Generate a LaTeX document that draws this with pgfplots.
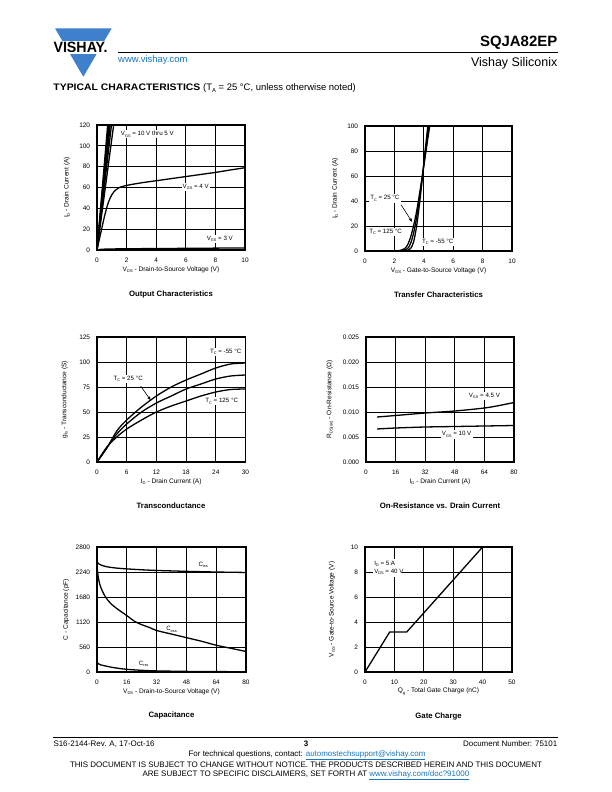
\documentclass[border=0pt]{standalone}
\usepackage{fontspec}
\setmainfont{Liberation Sans}
\usepackage{pgfplots}
\pgfplotsset{compat=1.18}
\usetikzlibrary{arrows.meta}
\definecolor{vblue}{RGB}{62,128,204}
\definecolor{linkblue}{RGB}{24,118,196}
\newcommand{\fs}[1]{\fontsize{#1}{#1}\selectfont}
\newcommand{\sub}[1]{\raisebox{-0.4ex}{\scalebox{0.62}{#1}}}
\newcommand{\link}[1]{\textcolor{linkblue}{\underline{#1}}}
\pgfplotsset{
  dsheet/.style={
    height=125bp, scale only axis, anchor=south west,
    axis line style={line width=1.3pt},
    grid=major, major grid style={black, line width=0.75pt},
    major tick length=0pt,
    tick label style={font=\fs{6.5}},
    xticklabel shift=4.5bp, yticklabel shift=3.4bp,
    /pgf/number format/assume math mode=true,
    /pgf/number format/1000 sep={},
    label style={font=\fs{6.6}},
    xlabel style={at={(axis description cs:0.5,-0.155)},anchor=center},
    cycle list={black},
    every axis plot/.append style={line width=1.3pt, black, solid},
    no marks,
    clip=true,
  },
}
\tikzset{lab/.style={fill=white, inner sep=1.2pt, font=\fs{6.2}}}
\begin{document}
\begin{tikzpicture}
\fill[white] (0,0) rectangle (612bp,-792bp);
\path[use as bounding box] (0,0) rectangle (612bp,-792bp);
% ---------- header ----------
\fill[vblue] (55bp,-28.3bp) -- (111.7bp,-28.3bp) -- (83.3bp,-76.7bp) -- cycle;
\fill[white] (50bp,-40.8bp) rectangle (115bp,-53.5bp);
\node[anchor=base west, inner sep=0] at (53.3bp,-52.3bp) {\scalebox{1}[1.05]{\fs{14.3}\bfseries VISHAY.}};
\draw[line width=1pt] (118bp,-52.3bp) -- (557.5bp,-52.3bp);
\node[anchor=base east, inner sep=0] at (557.5bp,-46.5bp) {\fs{15}\bfseries SQJA82EP};
\node[anchor=base east, inner sep=0] at (557.5bp,-66bp) {\fs{12.5}Vishay Siliconix};
\node[anchor=base west, inner sep=0, text=linkblue] at (118bp,-62bp) {\fs{9.5}www.vishay.com};
\node[anchor=base west, inner sep=0] at (53.3bp,-90.7bp) {\scalebox{1.1}[1]{\fs{9.5}\bfseries TYPICAL CHARACTERISTICS} \fs{9.5}(T\sub{A} = 25 °C, unless otherwise noted)};
% ---------- plot 1: output characteristics ----------
\begin{axis}[dsheet, width=148bp, at={(97bp,-250bp)},
  xmin=0, xmax=10, ymin=0, ymax=120, xtick={0,2,4,6,8,10}, ytick={0,20,40,60,80,100,120},
  xlabel={V\sub{DS} - Drain-to-Source Voltage (V)}, ylabel={I\sub{D} - Drain Current (A)},
  ylabel style={at={(axis description cs:-0.203,0.5)},anchor=center}]
\addplot coordinates {(0,0) (0.78,130)};
\addplot coordinates {(0,0) (0.84,130)};
\addplot coordinates {(0,0) (0.90,130)};
\addplot coordinates {(0,0) (0.97,130)};
\addplot coordinates {(0,0) (1.06,130)};
\addplot coordinates {(0,0) (1.22,130)};
\addplot+[smooth] coordinates {(0,0) (0.25,16) (0.5,32) (0.75,45) (1,53) (1.25,57.5) (1.5,60) (2,62) (3,64.5) (4,66.5) (5,68.5) (6,70.5) (7,72.5) (8,74.5) (9,76.8) (10,79)};
\addplot+[smooth] coordinates {(0,0) (0.3,0.7) (1,1.0) (2,1.2) (4,1.4) (6,1.6) (8,1.8) (10,2.0)};
\node[lab] at (axis cs:3.4,111) {V\sub{GS} = 10 V thru 5 V};
\node[lab] at (axis cs:6.67,60.8) {V\sub{GS} = 4 V};
\node[lab] at (axis cs:8.3,10.5) {V\sub{GS} = 3 V};
\end{axis}
\node[font=\fs{7.8}\bfseries] at (171bp,-294bp) {Output Characteristics};
% ---------- plot 2: transfer characteristics ----------
\begin{axis}[dsheet, width=147bp, at={(365bp,-251bp)},
  xmin=0, xmax=10, ymin=0, ymax=100, xtick={0,2,4,6,8,10}, ytick={0,20,40,60,80,100},
  xlabel={V\sub{GS} - Gate-to-Source Voltage (V)}, ylabel={I\sub{D} - Drain Current (A)},
  ylabel style={at={(axis description cs:-0.203,0.5)},anchor=center}]
\addplot+[smooth] coordinates {(2.0,0) (2.4,0.5) (2.7,2) (2.9,5) (3.1,11) (3.3,20) (3.5,31) (3.7,45) (3.9,60) (4.1,76) (4.3,92) (4.42,101)};
\addplot+[smooth] coordinates {(2.2,0) (2.6,0.5) (2.9,2) (3.1,6) (3.3,14) (3.5,26) (3.7,42) (3.9,60) (4.1,78) (4.25,92) (4.35,101)};
\addplot+[smooth] coordinates {(2.5,0) (2.9,0.5) (3.1,2) (3.3,7) (3.5,19) (3.7,37) (3.9,58) (4.05,76) (4.2,92) (4.28,101)};
\node[lab] at (axis cs:1.35,42) {T\sub{C} = 25 °C};
\draw[line width=0.6pt, -{Latex[length=4pt,width=3pt]}] (axis cs:2.45,37) -- (axis cs:3.22,23);
\node[lab] at (axis cs:1.4,15.4) {T\sub{C} = 125 °C};
\node[lab] at (axis cs:4.95,7.4) {T\sub{C} = -55 °C};
\end{axis}
\node[font=\fs{7.8}\bfseries] at (438.5bp,-295bp) {Transfer Characteristics};
% ---------- plot 3: transconductance ----------
\begin{axis}[dsheet, width=148.5bp, at={(97bp,-462bp)},
  xmin=0, xmax=30, ymin=0, ymax=125, xtick={0,6,12,18,24,30}, ytick={0,25,50,75,100,125},
  xlabel={I\sub{D} - Drain Current (A)}, ylabel={g\sub{fs} - Transconductance (S)},
  ylabel style={at={(axis description cs:-0.218,0.5)},anchor=center}]
\addplot+[smooth] coordinates {(0,0) (2,14) (4,31) (6,42) (9,55) (12,66) (15,75) (18,82) (21,88) (24,94) (27,98) (30,99)};
\addplot+[smooth] coordinates {(0,0) (2,14.5) (4,28) (6,38) (9,50) (12,59) (15,66) (18,73) (21,78) (24,83) (27,86) (30,87)};
\addplot+[smooth] coordinates {(0,0) (2,15) (4,25) (6,33) (9,42) (12,50) (15,56) (18,61) (21,66) (24,70) (27,72.5) (30,73)};
\node[lab] at (axis cs:26,110) {T\sub{C} = -55 °C};
\node[lab] at (axis cs:6.3,83) {T\sub{C} = 25 °C};
\draw[line width=0.6pt, -{Latex[length=4pt,width=3pt]}] (axis cs:8.8,76) -- (axis cs:10.9,61.5);
\node[lab] at (axis cs:25.2,60.7) {T\sub{C} = 125 °C};
\end{axis}
\node[font=\fs{7.8}\bfseries] at (171bp,-506bp) {Transconductance};
% ---------- plot 4: on-resistance ----------
\begin{axis}[dsheet, width=148bp, at={(366bp,-462bp)},
  xmin=0, xmax=80, ymin=0, ymax=0.025, xtick={0,16,32,48,64,80}, ytick={0,0.005,0.010,0.015,0.020,0.025},
  scaled y ticks=false,
  yticklabel style={/pgf/number format/fixed, /pgf/number format/fixed zerofill, /pgf/number format/precision=3},
  xlabel={I\sub{D} - Drain Current (A)}, ylabel={R\sub{DS(on)} - On-Resistance (Ω)},
  ylabel style={at={(axis description cs:-0.243,0.5)},anchor=center}]
\addplot+[smooth] coordinates {(6,0.0090) (16,0.0093) (32,0.0098) (48,0.0102) (64,0.0108) (72,0.0113) (80,0.0119)};
\addplot+[smooth] coordinates {(6,0.0066) (16,0.0068) (32,0.0070) (48,0.0071) (64,0.0072) (80,0.0073)};
\node[lab] at (axis cs:64,0.0132) {V\sub{GS} = 4.5 V};
\node[lab] at (axis cs:49,0.0055) {V\sub{GS} = 10 V};
\end{axis}
\node[font=\fs{7.8}\bfseries] at (440bp,-506bp) {On-Resistance vs. Drain Current};
% ---------- plot 5: capacitance ----------
\begin{axis}[dsheet, width=149bp, at={(97bp,-672bp)},
  xmin=0, xmax=80, ymin=0, ymax=2800, xtick={0,16,32,48,64,80}, ytick={0,560,1120,1680,2240,2800},
  xlabel={V\sub{DS} - Drain-to-Source Voltage (V)}, ylabel={C - Capacitance (pF)},
  ylabel style={at={(axis description cs:-0.207,0.5)},anchor=center}]
\addplot+[smooth] coordinates {(0,2580) (0.3,2450) (2,2400) (5,2360) (10,2330) (16,2310) (24,2290) (32,2275) (48,2255) (64,2240) (80,2230)};
\addplot+[smooth] coordinates {(0,2450) (0.3,2250) (1,2050) (2,1900) (4,1720) (6,1600) (8,1510) (12,1380) (16,1265) (20,1140) (24,1060) (28,1000) (32,930) (40,850) (48,770) (56,690) (64,600) (72,530) (80,460)};
\addplot+[smooth] coordinates {(0,240) (0.5,190) (2,160) (4,140) (8,105) (12,80) (16,60) (24,38) (32,25) (48,14) (64,9) (80,7)};
\node[font=\fs{6.2}] at (axis cs:57,2400) {C\sub{iss}};
\node[font=\fs{6.2}] at (axis cs:40,956) {C\sub{oss}};
\node[font=\fs{6.2}] at (axis cs:25,187) {C\sub{rss}};
\end{axis}
\node[font=\fs{7.8}\bfseries] at (171.5bp,-715bp) {Capacitance};
% ---------- plot 6: gate charge ----------
\begin{axis}[dsheet, width=147bp, at={(365bp,-672bp)},
  xmin=0, xmax=50, ymin=0, ymax=10, xtick={0,10,20,30,40,50}, ytick={0,2,4,6,8,10},
  xlabel={Q\sub{g} - Total Gate Charge (nC)}, ylabel={V\sub{GS} - Gate-to-Source Voltage (V)},
  ylabel style={at={(axis description cs:-0.225,0.5)},anchor=center}]
\addplot coordinates {(0,0) (8.4,3.2) (14.2,3.2) (40,10)};
\fill[white] (axis cs:2.6,7.6) rectangle (axis cs:12.6,9.05);
\node[inner sep=0, font=\fs{6.2}, anchor=west] at (axis cs:3.1,8.67) {I\sub{D} = 5 A};
\node[inner sep=0, font=\fs{6.2}, anchor=west] at (axis cs:3.1,8.0) {V\sub{DS} = 40 V};
\end{axis}
\node[font=\fs{7.8}\bfseries] at (438.5bp,-716bp) {Gate Charge};
% ---------- footer ----------
\draw[line width=1pt] (53.3bp,-737.3bp) -- (557.5bp,-737.3bp);
\node[anchor=base west, inner sep=0] at (53.3bp,-746.5bp) {\fs{8}S16-2144-Rev. A, 17-Oct-16};
\node[anchor=base, inner sep=0] at (306bp,-746.5bp) {\fs{8}\bfseries 3};
\node[anchor=base east, inner sep=0] at (557.5bp,-746.5bp) {\fs{8}Document Number: 75101};
\node[anchor=base, inner sep=0] at (307bp,-756.5bp) {\fs{8}For technical questions, contact: \link{automostechsupport@vishay.com}};
\node[anchor=base, inner sep=0] at (306bp,-767bp) {\fs{8}THIS DOCUMENT IS SUBJECT TO CHANGE WITHOUT NOTICE. THE PRODUCTS DESCRIBED HEREIN AND THIS DOCUMENT};
\node[anchor=base, inner sep=0] at (306bp,-776bp) {\fs{8}ARE SUBJECT TO SPECIFIC DISCLAIMERS, SET FORTH AT \link{www.vishay.com/doc?91000}};
\end{tikzpicture}
\end{document}
